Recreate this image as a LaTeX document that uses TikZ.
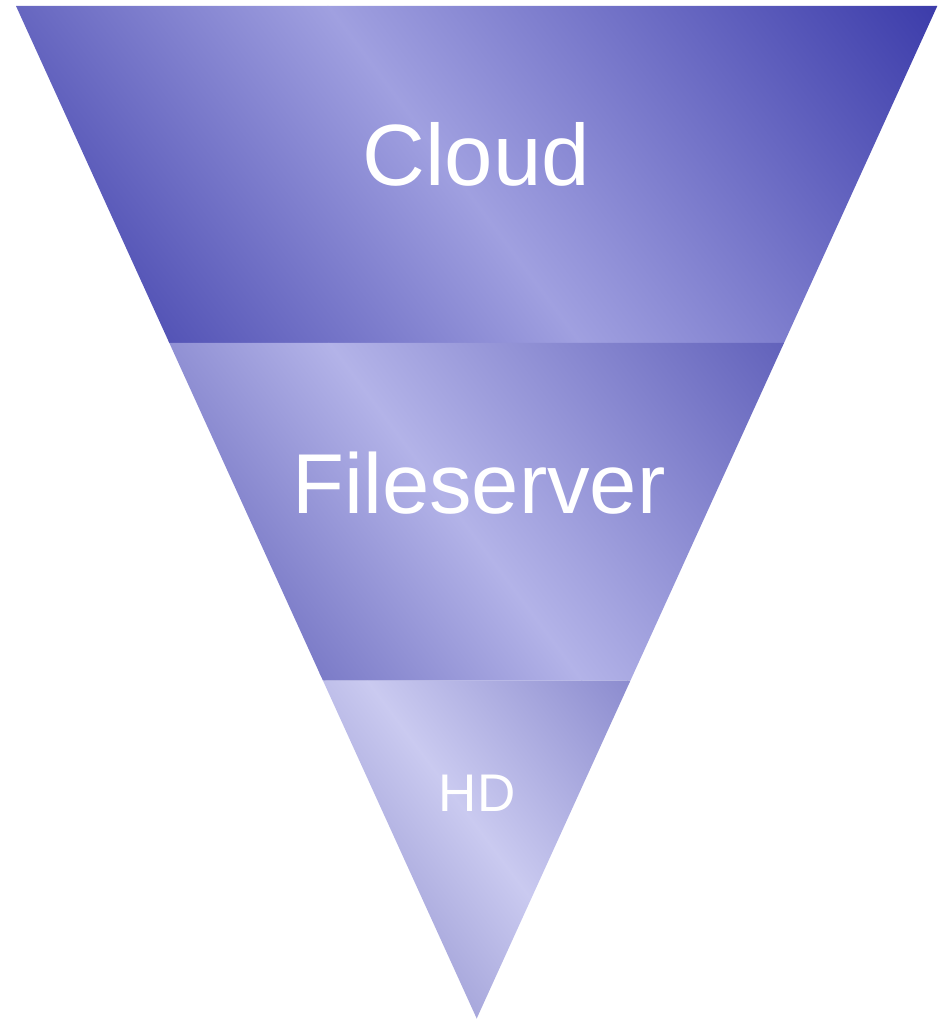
\documentclass[tikz,border=0pt]{standalone}
\usepackage{fontspec}
\setmainfont{Liberation Sans}
\usetikzlibrary{calc}

% band colours: dark edge, light streak, far edge
\definecolor{cloudA}{HTML}{5454B6}
\definecolor{cloudB}{HTML}{A0A0E0}
\definecolor{cloudC}{HTML}{3C3CAA}
\definecolor{fileA}{HTML}{7C7CC8}
\definecolor{fileB}{HTML}{B3B3E8}
\definecolor{fileC}{HTML}{6262BB}
\definecolor{hdA}{HTML}{A8A8DC}
\definecolor{hdB}{HTML}{CACAF0}
\definecolor{hdC}{HTML}{8C8CCF}

% a diagonal two-part gradient, laid out along the rotated x' axis
% #1..#3 colours, #4..#6 positions of the three colour stops
\newcommand{\bandshade}[6]{%
  \begin{scope}[transform canvas={rotate=36.87}]
    \fill[#1] (#4-400,-900) rectangle (#4+0.5,1100);
    \fill[#3] (#6-0.5,-900) rectangle (#6+400,1100);
    \shade[left color=#1, right color=#2] (#4,-900) rectangle (#5+0.5,1100);
    \shade[left color=#2, right color=#3] (#5,-900) rectangle (#6,1100);
  \end{scope}}

\begin{document}
\begin{tikzpicture}[x=1pt,y=1pt,
  bandlabel/.style={text=white, inner sep=0pt, anchor=base}]
\useasboundingbox (0,0) rectangle (938,1019);

% outline of the inverted triangle
\coordinate (TL) at (16,1013);
\coordinate (TR) at (937.3,1013);
\coordinate (AP) at (476.7,0.5);
\coordinate (L1) at ($(TL)!0.3327!(AP)$);
\coordinate (R1) at ($(TR)!0.3327!(AP)$);
\coordinate (L2) at ($(TL)!0.6663!(AP)$);
\coordinate (R2) at ($(TR)!0.6663!(AP)$);

% top band
\begin{scope}
  \clip (TL) -- (TR) -- (R1) -- (L1) -- cycle;
  \bandshade{cloudA}{cloudB}{cloudC}{541}{870}{1357}
\end{scope}

% middle band
\begin{scope}
  \clip (L1) -- (R1) -- (R2) -- (L2) -- cycle;
  \bandshade{fileA}{fileB}{fileC}{462.8}{668.4}{1032.4}
\end{scope}

% bottom band
\begin{scope}
  \clip (L2) -- (R2) -- (AP) -- cycle;
  \bandshade{hdA}{hdB}{hdC}{381.4}{496.4}{705.4}
\end{scope}

% labels
\node[bandlabel, font=\fontsize{87}{87}\selectfont] (cloud) at (476.2,833) {Cloud};
\node[bandlabel, font=\fontsize{85}{85}\selectfont] (fileserver) at (479,505.3) {Fileserver};
\node[bandlabel, font=\fontsize{53}{53}\selectfont] (hd) at (477.2,207.3) {HD};
\end{tikzpicture}
\end{document}
